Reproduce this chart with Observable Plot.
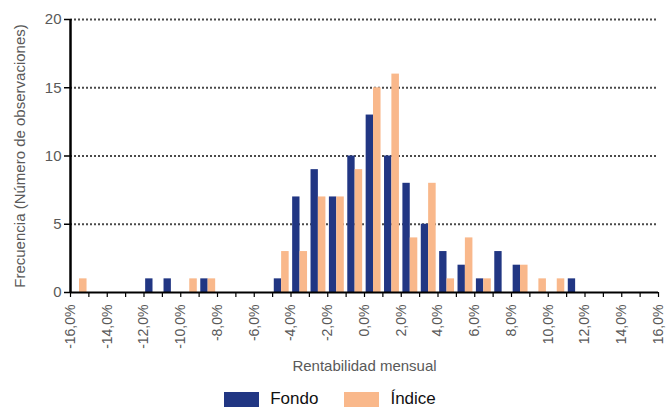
<!DOCTYPE html>
<html>
<head>
<meta charset="utf-8">
<script src="https://cdn.jsdelivr.net/npm/d3@7"></script>
<script src="https://cdn.jsdelivr.net/npm/@observablehq/plot@0.6"></script>
<style>
  html, body { margin: 0; padding: 0; background: #fff; }
  body { width: 672px; height: 408px; overflow: hidden; font-family: "Liberation Sans", Arial, sans-serif; }
  #chart svg { display: block; }
  .legend { display: flex; justify-content: center; align-items: center; height: 28px; margin-top: 5px; margin-left: -12px; font-size: 17px; color: #111; }
  .legend .item { display: flex; align-items: center; }
  .legend .sw { width: 35px; height: 15px; margin-right: 11px; }
  .legend .item + .item { margin-left: 26px; }
</style>
</head>
<body>
<div id="chart"></div>
<div class="legend">
  <div class="item"><span class="sw" style="background:#213683"></span><span>Fondo</span></div>
  <div class="item"><span class="sw" style="background:#f9b88b"></span><span>Índice</span></div>
</div>
<script>
// Bin start (rentabilidad mensual, %), each bin is 1 point wide
const bins = [-16, -15, -14, -13, -12, -11, -10, -9, -8, -7, -6, -5, -4, -3, -2, -1,
              0, 1, 2, 3, 4, 5, 6, 7, 8, 9, 10, 11, 12, 13, 14, 15];
// Frequencies
const fondo  = [0, 0, 0, 0, 1, 1, 0, 1, 0, 0, 0, 1, 7, 9, 7, 10,
                13, 10, 8, 5, 3, 2, 1, 3, 2, 0, 0, 1, 0, 0, 0, 0];
const indice = [1, 0, 0, 0, 0, 0, 1, 1, 0, 0, 0, 3, 3, 7, 7, 9,
                15, 16, 4, 8, 1, 4, 1, 0, 2, 1, 1, 0, 0, 0, 0, 0];
const series = ["Fondo", "Índice"];
const colors = ["#213683", "#f9b88b"];
const xTicks = [-16, -15, -14, -13, -12, -11, -10, -9, -8, -7, -6, -5, -4, -3, -2, -1,
                0, 1, 2, 3, 4, 5, 6, 7, 8, 9, 10, 11, 12, 13, 14, 15, 16];
const xLabels = [-16, -14, -12, -10, -8, -6, -4, -2, 0, 2, 4, 6, 8, 10, 12, 14, 16];
const yTicks = [0, 5, 10, 15, 20];

// Table built from the arrays (position within the bin is a layout choice)
const slot = {"Fondo": [0.09, 0.49], "Índice": [0.49, 0.90]};
const rows = [];
bins.forEach((b, i) => {
  rows.push({bin: b, serie: "Fondo", n: fondo[i]});
  rows.push({bin: b, serie: "Índice", n: indice[i]});
});
const fmt = d => d.toFixed(1).replace(".", ",") + "%";

const chart = Plot.plot({
  width: 672,
  height: 380,
  marginLeft: 70,
  marginRight: 14,
  marginTop: 19,
  marginBottom: 88,
  style: {fontFamily: "'Liberation Sans', Arial, sans-serif", fontSize: "15px", background: "#fff"},
  x: {domain: [-16, 16]},
  y: {domain: [0, 20]},
  color: {domain: series, range: colors},
  marks: [
    Plot.gridY([5, 10, 15, 20], {stroke: "#4a4a4a", strokeOpacity: 1, strokeWidth: 2, strokeDasharray: "2,2"}),
    Plot.rectY(rows.filter(d => d.n > 0), {
      x1: d => d.bin + slot[d.serie][0],
      x2: d => d.bin + slot[d.serie][1],
      y1: 0, y2: "n", fill: "serie"
    }),
    Plot.axisY({ticks: yTicks, tickSize: 6, tickFormat: () => "", stroke: "#000", strokeWidth: 1.5, label: null}),
    Plot.axisY({ticks: yTicks, tickSize: 0, tickPadding: 9, fontSize: 15, fill: "#595959", color: "#595959",
      label: "Frecuencia (Número de observaciones)", labelAnchor: "center", labelArrow: "none", labelOffset: 56}),
    Plot.axisX({ticks: xTicks, tickSize: 5, tickFormat: () => "", stroke: "#000", strokeWidth: 1.2, fill: "#595959", fontSize: 15,
      label: "Rentabilidad mensual", labelAnchor: "center", labelArrow: "none", labelOffset: 78}),
    Plot.axisX({ticks: xLabels, tickSize: 0, tickPadding: 12, tickRotate: -90, tickFormat: fmt, fontSize: 14,
      fill: "#595959", color: "#595959", label: null}),
    Plot.ruleX([-16], {stroke: "#000", strokeWidth: 2.5}),
    Plot.ruleY([0], {stroke: "#000", strokeWidth: 2})
  ]
});
document.getElementById("chart").appendChild(chart);
</script>
</body>
</html>
